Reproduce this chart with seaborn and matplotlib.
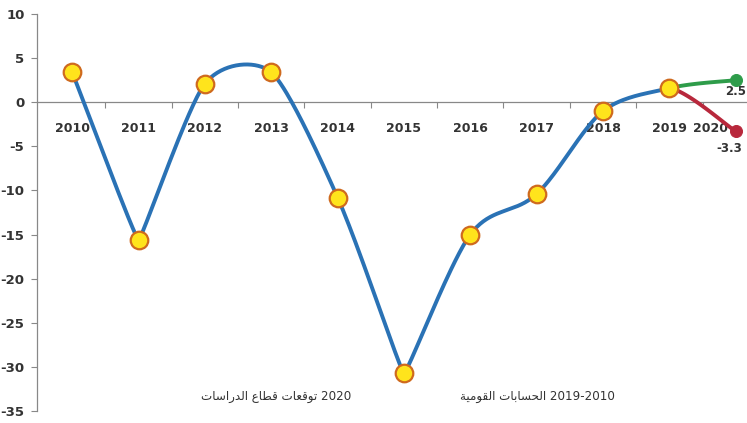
import numpy as np
import pandas as pd
import matplotlib
matplotlib.use("Agg")
import matplotlib.pyplot as plt
import seaborn as sns

# ---------------- data ----------------
years = ["2010", "2011", "2012", "2013", "2014", "2015", "2016", "2017", "2018", "2019", "2020"]
actual = [3.4, -15.6, 2.1, 3.4, -10.8, -30.7, -15.0, -10.4, -1.0, 1.6]   # 2010-2019
forecast_high = 2.5    # 2020
forecast_low = -3.3    # 2020
yticks = [10, 5, 0, -5, -10, -15, -20, -25, -30, -35]
legend_left_ar = ["توقعات", "قطاع", "الدراسات"]
legend_left_num = "2020"
legend_right_ar = ["الحسابات", "القومية"]
legend_right_num = "2019-2010"

# ---------------- arabic shaping (presentation forms, visual order) ----------------
FORMS = {
    'ا': ('\uFE8D', '\uFE8E', None, None),
    'ب': ('\uFE8F', '\uFE90', '\uFE91', '\uFE92'),
    'ت': ('\uFE95', '\uFE96', '\uFE97', '\uFE98'),
    'ة': ('\uFE93', '\uFE94', None, None),
    'ح': ('\uFEA1', '\uFEA2', '\uFEA3', '\uFEA4'),
    'د': ('\uFEA9', '\uFEAA', None, None),
    'ر': ('\uFEAD', '\uFEAE', None, None),
    'س': ('\uFEB1', '\uFEB2', '\uFEB3', '\uFEB4'),
    'ط': ('\uFEC1', '\uFEC2', '\uFEC3', '\uFEC4'),
    'ع': ('\uFEC9', '\uFECA', '\uFECB', '\uFECC'),
    'ق': ('\uFED5', '\uFED6', '\uFED7', '\uFED8'),
    'ل': ('\uFEDD', '\uFEDE', '\uFEDF', '\uFEE0'),
    'م': ('\uFEE1', '\uFEE2', '\uFEE3', '\uFEE4'),
    'و': ('\uFEED', '\uFEEE', None, None),
    'ي': ('\uFEF1', '\uFEF2', '\uFEF3', '\uFEF4'),
}


def shape_word(w):
    out = []
    n = len(w)
    for i, ch in enumerate(w):
        f = FORMS.get(ch)
        if f is None:
            out.append(ch)
            continue
        prev_joins = i > 0 and FORMS.get(w[i - 1], (None,) * 4)[2] is not None
        next_joins = i < n - 1 and f[2] is not None and w[i + 1] in FORMS
        if prev_joins and next_joins:
            out.append(f[3])
        elif prev_joins:
            out.append(f[1])
        elif next_joins:
            out.append(f[2])
        else:
            out.append(f[0])
    return "".join(out)[::-1]


def visual(words, num):
    return " ".join(shape_word(w) for w in reversed(words)) + " " + num


# ---------------- figure ----------------
sns.set_theme(style="white")
plt.rcParams['font.family'] = ['DejaVu Sans']

W, H = 747, 423
fig = plt.figure(figsize=(W / 100, H / 100), dpi=100)
ax_rect = [37 / W, 12 / H, 1 - 37 / W, 1 - 26 / H]
ax = fig.add_axes(ax_rect)

XLIM = (-0.53, 10.17)
YLIM = (-35, 10)
ax.set_xlim(*XLIM)
ax.set_ylim(*YLIM)

# pixel scale of data units (screen-space smoothing)
SX = ax_rect[2] * W / (XLIM[1] - XLIM[0])
SY = ax_rect[3] * H / (YLIM[1] - YLIM[0])


def smooth2d(xs, ys, k=0.17, n=40):
    P = np.column_stack([np.asarray(xs, float) * SX, np.asarray(ys, float) * SY])
    m = len(P)
    dirs, arms = [], []
    for i in range(m):
        if i == 0 or i == m - 1:
            v = P[1] - P[0] if i == 0 else P[-1] - P[-2]
            L = np.linalg.norm(v)
            dirs.append(v / L)
            arms.append(k * L)
        else:
            v = P[i + 1] - P[i - 1]
            a, b = P[i] - P[i - 1], P[i + 1] - P[i]
            cos = np.dot(a, b) / (np.linalg.norm(a) * np.linalg.norm(b))
            dirs.append(v / np.linalg.norm(v))
            arms.append(k * np.linalg.norm(v) * (1 + cos) / 2)
    t = np.linspace(0, 1, n)[:, None]
    segs = []
    for i in range(m - 1):
        p0, p3 = P[i], P[i + 1]
        c1 = p0 + arms[i] * dirs[i]
        c2 = p3 - arms[i + 1] * dirs[i + 1]
        b = ((1 - t) ** 3) * p0 + 3 * ((1 - t) ** 2) * t * c1 + 3 * (1 - t) * t ** 2 * c2 + t ** 3 * p3
        segs.append(b)
    B = np.vstack(segs)
    return B[:, 0] / SX, B[:, 1] / SY, n


BLUE = "#2a72b5"
GREEN = "#2e9c4a"
RED = "#b8283c"
YELLOW = "#ffe41c"
EDGE = "#cf6a1e"
TXT = "#333333"

xa = np.arange(len(actual))
sx, sy, _ = smooth2d(xa, actual)
sns.lineplot(x=sx, y=sy, ax=ax, color=BLUE, lw=2.8, sort=False, zorder=3)

# forecast branches 2019 -> 2020
i19 = len(actual) - 1
for val, col in [(forecast_high, GREEN), (forecast_low, RED)]:
    fx, fy, n = smooth2d([i19 - 1, i19, i19 + 1], [actual[-2], actual[-1], val])
    fx, fy = fx[n:], fy[n:]
    sns.lineplot(x=fx, y=fy, ax=ax, color=col, lw=2.8, sort=False, zorder=3)
    sns.scatterplot(x=[i19 + 1], y=[val], ax=ax, color=col, s=75, edgecolor=col, zorder=5)

sns.scatterplot(x=xa, y=actual, ax=ax, s=160, color=YELLOW, edgecolor=EDGE,
                linewidth=1.6, zorder=6)

# value labels for forecast
ax.text(i19 + 1, forecast_high - 0.6, f"{forecast_high}", ha="center", va="top",
        fontsize=8.5, fontweight="bold", color=TXT)
ax.text(i19 + 0.9, forecast_low - 1.2, f"{forecast_low}", ha="center", va="top",
        fontsize=8.5, fontweight="bold", color=TXT)

# axes
ax.set_yticks(yticks)
ax.set_yticklabels([str(v) for v in yticks], fontsize=9.5, fontweight="bold", color=TXT)
ax.tick_params(axis="y", direction="out", length=4, width=0.8, color="#888888", pad=5, left=True)

ax.set_xticks(np.arange(len(years) - 1) + 0.5)
ax.set_xticklabels([])
ax.tick_params(axis="x", direction="out", length=4, width=0.8, color="#888888", bottom=True)

for sp in ["top", "right"]:
    ax.spines[sp].set_visible(False)
ax.spines["left"].set_color("#888888")
ax.spines["left"].set_linewidth(0.9)
ax.spines["bottom"].set_position(("data", 0))
ax.spines["bottom"].set_color("#888888")
ax.spines["bottom"].set_linewidth(0.9)

for i, lab in enumerate(years):
    xpos = i if i < len(years) - 1 else i - 0.38
    ax.text(xpos, -2.95, lab, ha="center", va="center", fontsize=9,
            fontweight="bold", color=TXT, zorder=2)

# legend-like captions
fig.text(276 / W, 1 - 396 / H, visual(legend_left_ar, legend_left_num),
         ha="center", va="center", fontsize=8.6, color=TXT)
fig.text(537 / W, 1 - 396 / H, visual(legend_right_ar, legend_right_num),
         ha="center", va="center", fontsize=8.6, color=TXT)

fig.savefig("out.png", dpi=100)
